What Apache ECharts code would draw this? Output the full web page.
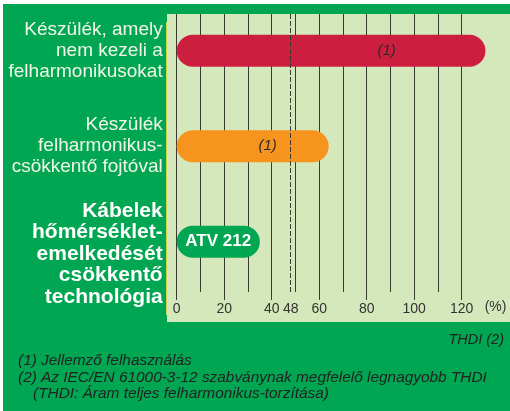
<!DOCTYPE html>
<html>
<head>
<meta charset="utf-8">
<title>THDI</title>
<script src="https://cdn.jsdelivr.net/npm/echarts@6/dist/echarts.min.js"></script>
<style>
  html, body { margin: 0; padding: 0; background: #fff; }
  #main { width: 510px; height: 411px; }
</style>
</head>
<body>
<div id="main"></div>
<script>
// kategóriák (felülről lefelé)
var categories = [
    'Készülék, amely\nnem kezeli a\nfelharmonikusokat',
    'Készülék\nfelharmonikus-\ncsökkentő fojtóval',
    'Kábelek\nhőmérséklet-\nemelkedését\ncsökkentő\ntechnológia'
];
// THDI értékek (%)
var thdiValues = [130, 64, 35];
// feliratok a sávokon
var barNotes = ['(1)', '(1)', 'ATV 212'];
// tengely
var axisMax = 120;
var limitValue = 48;

var FONT = '"Liberation Sans", Arial, Helvetica, sans-serif';
var bgGreen = '#00a651';
var plotGreen = '#d5e8bb';
var lineColor = '#3a3a33';
var barColors = ['#cc1f3f', '#f7941e', '#00a651'];

var chart = echarts.init(document.getElementById('main'));

var barData = thdiValues.map(function (v, i) {
    var item = { value: v, itemStyle: { color: barColors[i] } };
    if (i === 0) {
        item.label = { position: [210, '50%'] };
    } else if (i === 1) {
        item.label = { position: [91, '50%'] };
    } else {
        item.label = {
            position: 'inside', color: '#fff', fontWeight: 'bold',
            fontStyle: 'normal', fontSize: 17
        };
    }
    return item;
});

var footFont = 'italic 15.4px ' + FONT;

option = {
    backgroundColor: '#ffffff',
    animation: false,
    textStyle: { fontFamily: FONT },
    graphic: [
        {
            type: 'rect', z: -10, silent: true,
            shape: { x: 3, y: 4, width: 507, height: 407 },
            style: { fill: bgGreen }
        },
        {
            type: 'rect', z: -9, silent: true,
            shape: { x: 167, y: 14, width: 343, height: 308 },
            style: { fill: plotGreen }
        },
        {
            type: 'line', z: -8, silent: true,
            shape: { x1: 166.5, y1: 22, x2: 166.5, y2: 315 },
            style: { stroke: '#c9d64a', lineWidth: 1 }
        },
        {
            type: 'text', right: 6, top: 332,
            style: { text: 'THDI (2)', font: 'italic 14.5px ' + FONT, fill: '#222' }
        },
        {
            type: 'text', left: 18, top: 353,
            style: { text: '(1) Jellemző felhasználás', font: footFont, fill: '#222' }
        },
        {
            type: 'text', left: 18, top: 370,
            style: { text: '(2) Az IEC/EN 61000-3-12 szabványnak megfelelő legnagyobb THDI', font: footFont, fill: '#222' }
        },
        {
            type: 'text', left: 33, top: 386,
            style: { text: '(THDI: Áram teljes felharmonikus-torzítása)', font: footFont, fill: '#222' }
        }
    ],
    grid: [
        // sávok
        { left: 176.7, right: 0.8, top: 3, bottom: 121.5 },
        // rácsvonalak
        { left: 176.7, width: 285, top: 14, bottom: 119 }
    ],
    xAxis: [
        {
            gridIndex: 0, type: 'value', min: 0, max: 140, show: false
        },
        {
            gridIndex: 1, type: 'value', min: 0, max: axisMax, interval: 20,
            name: '(%)', nameLocation: 'end', nameGap: 23,
            nameTextStyle: { color: '#333', fontSize: 14, verticalAlign: 'top', padding: [8, 0, 0, 0] },
            axisLine: { show: false },
            axisTick: { show: true, length: 8, lineStyle: { color: lineColor, width: 1 } },
            axisLabel: { color: '#333', fontSize: 14, margin: 10 },
            splitLine: { show: true, lineStyle: { color: lineColor, width: 1 } },
            minorTick: { show: false, splitNumber: 2 },
            minorSplitLine: { show: true, lineStyle: { color: lineColor, width: 1 } }
        }
    ],
    yAxis: [
        {
            gridIndex: 0, type: 'category', inverse: true, data: categories,
            axisLine: { show: false }, axisTick: { show: false },
            axisLabel: {
                interval: 0, hideOverlap: false,
                color: '#f2f6e8', fontSize: 19, lineHeight: 21, margin: 14, align: 'right',
                formatter: function (v, i) {
                    if (i === 2) {
                        return '{sp| }\n' + v.split('\n').map(function (s) {
                            return '{b|' + s + '}';
                        }).join('\n');
                    }
                    return v;
                },
                rich: {
                    sp: { fontSize: 10, lineHeight: 24, height: 24 },
                    b: { color: '#ffffff', fontWeight: 'bold', fontSize: 21, lineHeight: 21.5, align: 'right' }
                }
            }
        },
        {
            gridIndex: 1, type: 'value', min: 0, max: 1, show: false
        }
    ],
    series: [
        {
            type: 'bar', xAxisIndex: 0, yAxisIndex: 0,
            data: barData, barWidth: 32, clip: false,
            itemStyle: { borderRadius: 16 },
            label: {
                show: true, align: 'center', verticalAlign: 'middle',
                color: '#2b2b2b', fontStyle: 'italic', fontSize: 15,
                formatter: function (p) { return barNotes[p.dataIndex]; }
            }
        },
        {
            type: 'scatter', xAxisIndex: 1, yAxisIndex: 1, data: [],
            markLine: {
                silent: true, symbol: 'none',
                lineStyle: { type: [5, 2], color: lineColor, width: 1 },
                label: { show: true, position: 'start', formatter: String(limitValue), color: '#333', fontSize: 14, distance: 10 },
                data: [{ xAxis: limitValue }]
            }
        }
    ]
};

chart.setOption(option);
</script>
</body>
</html>
